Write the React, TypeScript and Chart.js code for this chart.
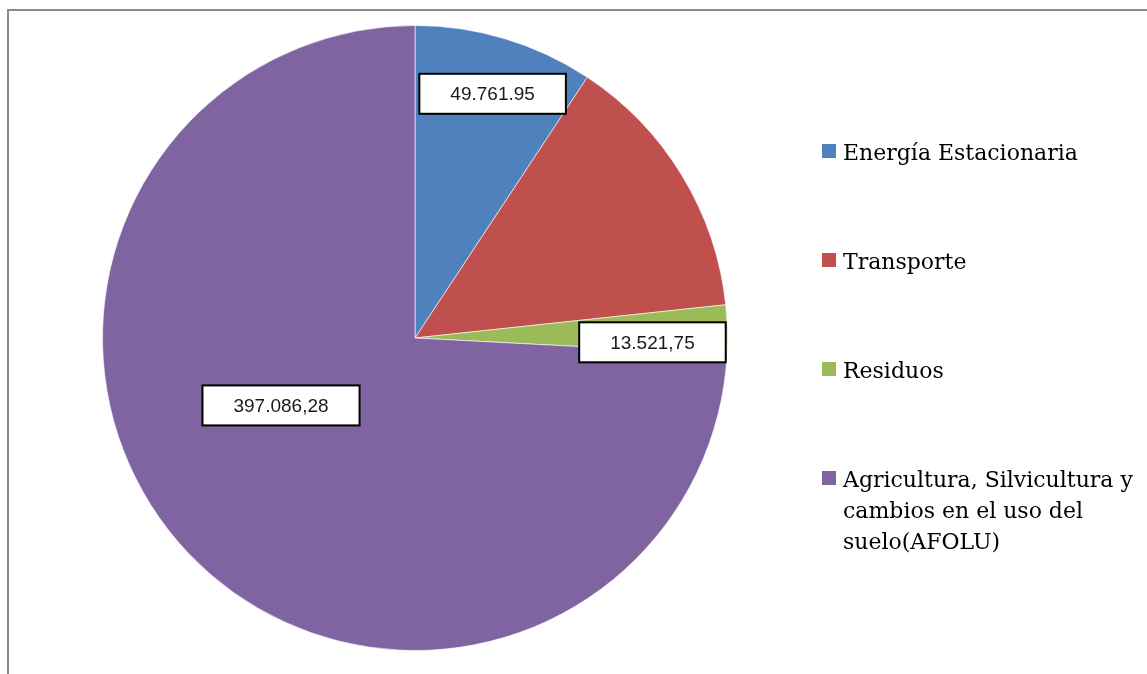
import React, { useEffect, useRef } from "react";
import { Chart, registerables } from "chart.js";

Chart.register(...registerables);

const categories = [
  "Energía Estacionaria",
  "Transporte",
  "Residuos",
  "Agricultura, Silvicultura y cambios en el uso del suelo(AFOLU)",
];
const values = [49761.95, 75000, 13521.75, 397086.28];
const valueLabels = ["49.761.95", "", "13.521,75", "397.086,28"];
const colors = ["#4F81BD", "#C0504D", "#9BBB59", "#8064A2"];
// data label placement: radius fraction, clockwise angle offset (deg) from slice middle
const labelRadius = [0.82, 0.7, 0.76, 0.48];
const labelAngleOffset = [0.9, 0, 2.6, 16.8];

const W = 1147;
const H = 674;

const overlayPlugin = {
  id: "overlay",
  afterDraw(chart: any) {
    const ctx = chart.ctx as CanvasRenderingContext2D;
    ctx.save();
    // frame lines (top and left)
    ctx.strokeStyle = "#8a8a8a";
    ctx.lineWidth = 2;
    ctx.beginPath();
    ctx.moveTo(7, 10);
    ctx.lineTo(chart.width, 10);
    ctx.moveTo(8, 9);
    ctx.lineTo(8, chart.height);
    ctx.stroke();

    // data labels
    const meta = chart.getDatasetMeta(0);
    ctx.font = "19px 'Liberation Sans', Arial, sans-serif";
    ctx.textAlign = "center";
    ctx.textBaseline = "middle";
    meta.data.forEach((arc: any, i: number) => {
      const txt = valueLabels[i];
      if (!txt) return;
      const p = arc.getProps(["x", "y", "startAngle", "endAngle", "outerRadius"], true);
      const a = (p.startAngle + p.endAngle) / 2 + (labelAngleOffset[i] * Math.PI) / 180;
      const r = p.outerRadius * labelRadius[i];
      const cx = p.x + r * Math.cos(a);
      const cy = p.y + r * Math.sin(a);
      const tw = ctx.measureText(txt).width;
      const bw = tw + 62;
      const bh = 40;
      ctx.fillStyle = "#ffffff";
      ctx.fillRect(cx - bw / 2, cy - bh / 2, bw, bh);
      ctx.strokeStyle = "#000000";
      ctx.lineWidth = 2;
      ctx.strokeRect(cx - bw / 2, cy - bh / 2, bw, bh);
      ctx.fillStyle = "#1a1a1a";
      ctx.fillText(txt, cx, cy + 1);
    });

    // legend
    const lx = 822;
    const tx = 843;
    const maxW = 298;
    const baselines = [160, 269, 378, 487];
    const lineH = 31;
    ctx.font = "22px 'DejaVu Serif', serif";
    ctx.textAlign = "left";
    ctx.textBaseline = "alphabetic";
    chart.data.labels.forEach((label: string, i: number) => {
      const by = baselines[i];
      ctx.fillStyle = colors[i];
      ctx.fillRect(lx, by - 16, 14, 14);
      const words = label.split(" ");
      const lines: string[] = [];
      let cur = "";
      words.forEach((w) => {
        const test = cur ? cur + " " + w : w;
        if (ctx.measureText(test).width > maxW && cur) {
          lines.push(cur);
          cur = w;
        } else cur = test;
      });
      if (cur) lines.push(cur);
      ctx.fillStyle = "#000000";
      lines.forEach((ln, k) => ctx.fillText(ln, tx, by + k * lineH));
    });
    ctx.restore();
  },
};

export default function App() {
  const ref = useRef<HTMLCanvasElement>(null);
  useEffect(() => {
    if (!ref.current) return;
    const chart = new Chart(ref.current, {
      type: "pie",
      data: {
        labels: categories,
        datasets: [
          {
            data: values,
            backgroundColor: colors,
            borderColor: "rgba(255,255,255,0.6)",
            borderWidth: 1,
          },
        ],
      },
      options: {
        responsive: false,
        animation: false,
        events: [],
        layout: { padding: { left: 102, right: 419, top: 25, bottom: 23 } },
        plugins: {
          legend: { display: false },
          tooltip: { enabled: false },
          title: { display: false },
        },
      },
      plugins: [overlayPlugin],
    });
    return () => chart.destroy();
  }, []);
  return (
    <div style={{ position: "absolute", left: 0, top: 0, width: W, height: H, background: "#fff" }}>
      <canvas ref={ref} width={W} height={H} style={{ display: "block" }} />
    </div>
  );
}
